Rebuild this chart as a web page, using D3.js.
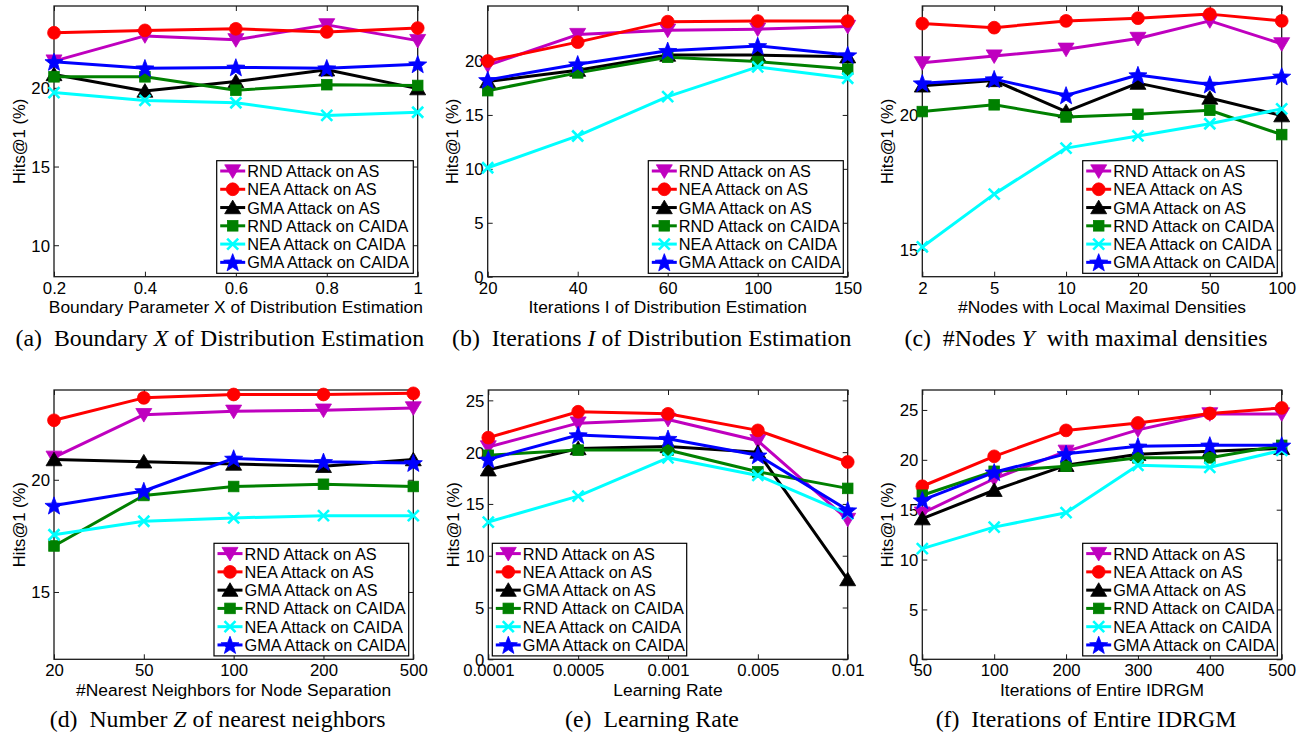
<!DOCTYPE html>
<html>
<head>
<meta charset="utf-8">
<script src="https://cdn.jsdelivr.net/npm/d3@7"></script>
<style>
  html, body { margin: 0; padding: 0; background: #fff; }
  svg { display: block; }
  text { font-family: "Liberation Sans", Arial, Helvetica, sans-serif; fill: #000; }
  .cap { font-family: "Liberation Serif", "Times New Roman", Times, serif; }
</style>
</head>
<body>
<svg id="chart" width="1302" height="736"></svg>
<script>
// ---------------- DATA ----------------
const seriesNames = ["RND Attack on AS", "NEA Attack on AS", "GMA Attack on AS",
                     "RND Attack on CAIDA", "NEA Attack on CAIDA", "GMA Attack on CAIDA"];

// (a) Boundary X
const catsA = ["0.2", "0.4", "0.6", "0.8", "1"];
const rndAsA = [21.7, 23.3, 23.05, 24.0, 23.0];
const neaAsA = [23.5, 23.65, 23.75, 23.55, 23.8];
const gmaAsA = [20.85, 19.8, 20.4, 21.15, 19.95];
const rndCaA = [20.7, 20.7, 19.85, 20.2, 20.15];
const neaCaA = [19.7, 19.2, 19.05, 18.25, 18.45];
const gmaCaA = [21.65, 21.25, 21.3, 21.25, 21.5];
const yTicksA = [10, 15, 20];

// (b) Iterations I
const catsB = ["20", "40", "60", "100", "150"];
const rndAsB = [19.6, 22.45, 22.85, 22.95, 23.2];
const neaAsB = [20.0, 21.75, 23.65, 23.7, 23.7];
const gmaAsB = [18.1, 19.15, 20.55, 20.55, 20.4];
const rndCaB = [17.25, 18.9, 20.35, 19.95, 19.25];
const neaCaB = [10.1, 13.05, 16.7, 19.45, 18.4];
const gmaCaB = [18.25, 19.7, 20.95, 21.4, 20.55];
const yTicksB = [0, 5, 10, 15, 20];

// (c) #Nodes Y
const catsC = ["2", "5", "10", "20", "50", "100"];
const rndAsC = [21.9, 22.15, 22.4, 22.8, 23.45, 22.6];
const neaAsC = [23.35, 23.2, 23.45, 23.55, 23.7, 23.45];
const gmaAsC = [21.05, 21.25, 20.1, 21.15, 20.6, 19.95];
const rndCaC = [20.1, 20.35, 19.9, 20.0, 20.15, 19.25];
const neaCaC = [15.1, 17.05, 18.75, 19.2, 19.65, 20.2];
const gmaCaC = [21.15, 21.3, 20.7, 21.45, 21.1, 21.4];
const yTicksC = [15, 20];

// (d) Number Z of nearest neighbors
const catsD = ["20", "50", "100", "200", "500"];
const rndAsD = [21.0, 22.9, 23.05, 23.1, 23.2];
const neaAsD = [22.65, 23.65, 23.8, 23.8, 23.85];
const gmaAsD = [20.9, 20.8, 20.7, 20.6, 20.9];
const rndCaD = [17.05, 19.3, 19.7, 19.8, 19.7];
const neaCaD = [17.55, 18.15, 18.3, 18.4, 18.4];
const gmaCaD = [18.85, 19.5, 20.95, 20.8, 20.75];
const yTicksD = [15, 20];

// (e) Learning rate
const catsE = ["0.0001", "0.0005", "0.001", "0.005", "0.01"];
const rndAsE = [20.5, 22.8, 23.15, 21.1, 13.5];
const neaAsE = [21.4, 23.9, 23.7, 22.1, 19.05];
const gmaAsE = [18.3, 20.35, 20.55, 20.0, 7.7];
const rndCaE = [19.7, 20.2, 20.2, 18.1, 16.5];
const neaCaE = [13.25, 15.75, 19.45, 17.75, 14.05];
const gmaCaE = [19.3, 21.65, 21.3, 19.7, 14.4];
const yTicksE = [0, 5, 10, 15, 20, 25];

// (f) Iterations of entire IDRGM
const catsF = ["50", "100", "200", "300", "400", "500"];
const rndAsF = [14.65, 18.1, 20.85, 23.0, 24.6, 24.6];
const neaAsF = [17.35, 20.35, 22.95, 23.7, 24.65, 25.2];
const gmaAsF = [14.1, 16.95, 19.45, 20.55, 20.85, 21.15];
const rndCaF = [16.45, 18.85, 19.35, 20.2, 20.2, 21.45];
const neaCaF = [11.1, 13.25, 14.7, 19.45, 19.25, 20.95];
const gmaCaF = [15.95, 18.75, 20.6, 21.35, 21.45, 21.45];
const yTicksF = [0, 5, 10, 15, 20, 25];

// ---------------- STYLE / LAYOUT ----------------
const colors = ["#bf00bf", "#ff0000", "#000000", "#008000", "#00ffff", "#0000ff"];
const markers = ["triDown", "circle", "triUp", "square", "x", "star"];

const panels = [
  { cats: catsA, series: [rndAsA, neaAsA, gmaAsA, rndCaA, neaCaA, gmaCaA], yDom: [8, 25.2], yTicks: yTicksA,
    box: [54, 417.7, 6, 276.7], leg: [216.7, 160.7], legW: 196.6,
    xlabel: "Boundary Parameter X of Distribution Estimation",
    cap: [["(a)  Boundary ", false], ["X", true], [" of Distribution Estimation", false]] },
  { cats: catsB, series: [rndAsB, neaAsB, gmaAsB, rndCaB, neaCaB, gmaCaB], yDom: [0, 25.1], yTicks: yTicksB,
    box: [487.7, 847.7, 6, 276.7], leg: [648.3, 160.7], legW: 195,
    xlabel: "Iterations I of Distribution Estimation",
    cap: [["(b)  Iterations ", false], ["I", true], [" of Distribution Estimation", false]] },
  { cats: catsC, series: [rndAsC, neaAsC, gmaAsC, rndCaC, neaCaC, gmaCaC], yDom: [14, 24], yTicks: yTicksC,
    box: [922.3, 1281.7, 6, 276.7], leg: [1082.7, 160.7], legW: 194.6,
    xlabel: "#Nodes with Local Maximal Densities",
    cap: [["(c)  #Nodes ", false], ["Y", true], ["  with maximal densities", false]] },
  { cats: catsD, series: [rndAsD, neaAsD, gmaAsD, rndCaD, neaCaD, gmaCaD], yDom: [12, 24], yTicks: yTicksD,
    box: [54, 413.3, 390, 659.3], leg: [214, 543.3], legW: 194.7,
    xlabel: "#Nearest Neighbors for Node Separation",
    cap: [["(d)  Number ", false], ["Z", true], [" of nearest neighbors", false]] },
  { cats: catsE, series: [rndAsE, neaAsE, gmaAsE, rndCaE, neaCaE, gmaCaE], yDom: [0, 26], yTicks: yTicksE,
    box: [488.3, 847.7, 390, 659.3], leg: [492.3, 543.3], legW: 194.4,
    xlabel: "Learning Rate",
    cap: [["(e)  Learning Rate", false]] },
  { cats: catsF, series: [rndAsF, neaAsF, gmaAsF, rndCaF, neaCaF, gmaCaF], yDom: [0, 27], yTicks: yTicksF,
    box: [922.3, 1281.7, 390, 659.3], leg: [1082.7, 543.3], legW: 194.6,
    xlabel: "Iterations of Entire IDRGM",
    cap: [["(f)  Iterations of Entire IDRGM", false]] }
];

const svg = d3.select("#chart");
svg.append("rect").attr("width", 1302).attr("height", 736).attr("fill", "#fff");

function starPath(R, r) {
  const pts = [];
  for (let i = 0; i < 10; i++) {
    const a = -Math.PI / 2 + i * Math.PI / 5;
    const rad = i % 2 === 0 ? R : r;
    pts.push([rad * Math.cos(a), rad * Math.sin(a) + 0.8]);
  }
  return "M" + pts.map(p => p[0].toFixed(2) + "," + p[1].toFixed(2)).join("L") + "Z";
}

function drawMarker(g, type, color, x, y) {
  const m = g.append("g").attr("transform", `translate(${x},${y})`);
  if (type === "circle") {
    m.append("circle").attr("r", 6.4).attr("fill", color).attr("stroke", color).attr("stroke-width", 0.8);
  } else if (type === "triDown") {
    m.append("path").attr("d", "M-8,-6.2L8,-6.2L0,7.4Z").attr("fill", color).attr("stroke", color).attr("stroke-width", 0.8);
  } else if (type === "triUp") {
    m.append("path").attr("d", "M-8,6.2L8,6.2L0,-7.4Z").attr("fill", color).attr("stroke", color).attr("stroke-width", 0.8);
  } else if (type === "square") {
    m.append("rect").attr("x", -5.3).attr("y", -5.3).attr("width", 10.6).attr("height", 10.6)
      .attr("fill", color).attr("stroke", color).attr("stroke-width", 0.8);
  } else if (type === "x") {
    m.append("path").attr("d", "M-5.5,-5.5L5.5,5.5M-5.5,5.5L5.5,-5.5").attr("stroke", color)
      .attr("stroke-width", 2.6).attr("fill", "none");
  } else if (type === "star") {
    m.append("path").attr("d", starPath(9.5, 4.0)).attr("fill", color).attr("stroke", color).attr("stroke-width", 0.8);
  }
}

panels.forEach(p => {
  const [x0, x1, y0, y1] = p.box;
  const g = svg.append("g");
  const x = d3.scalePoint().domain(p.cats).range([x0, x1]).padding(0);
  const y = d3.scaleLinear().domain(p.yDom).range([y1, y0]);

  // axes box
  g.append("rect").attr("x", x0).attr("y", y0).attr("width", x1 - x0).attr("height", y1 - y0)
    .attr("fill", "none").attr("stroke", "#1a1a1a").attr("stroke-width", 1.3);

  // bottom axis (ticks inward) + labels
  const bottom = g.append("g").attr("transform", `translate(0,${y1})`)
    .call(d3.axisBottom(x).tickSize(-5).tickPadding(0).tickSizeOuter(0));
  bottom.select(".domain").remove();
  bottom.selectAll(".tick line").attr("stroke", "#1a1a1a").attr("stroke-width", 1);
  bottom.selectAll(".tick text").attr("y", 17).attr("dy", null).attr("font-size", 16.8)
    .attr("font-family", '"Liberation Sans", Arial, sans-serif').attr("fill", "#000");

  // top ticks
  const top = g.append("g").attr("transform", `translate(0,${y0})`)
    .call(d3.axisTop(x).tickSize(-5).tickFormat("").tickSizeOuter(0));
  top.select(".domain").remove();
  top.selectAll(".tick line").attr("stroke", "#1a1a1a");

  // left axis
  const left = g.append("g").attr("transform", `translate(${x0},0)`)
    .call(d3.axisLeft(y).tickValues(p.yTicks).tickSize(-5).tickPadding(4).tickSizeOuter(0));
  left.select(".domain").remove();
  left.selectAll(".tick line").attr("stroke", "#1a1a1a");
  left.selectAll(".tick text").attr("font-size", 16.8).attr("x", -4).attr("dy", "0.35em")
    .attr("font-family", '"Liberation Sans", Arial, sans-serif').attr("fill", "#000");

  // right ticks
  const right = g.append("g").attr("transform", `translate(${x1},0)`)
    .call(d3.axisRight(y).tickValues(p.yTicks).tickSize(-5).tickFormat("").tickSizeOuter(0));
  right.select(".domain").remove();
  right.selectAll(".tick line").attr("stroke", "#1a1a1a");

  // axis labels
  g.append("text").attr("x", (x0 + x1) / 2).attr("y", y1 + 36.3).attr("text-anchor", "middle")
    .attr("font-size", 17.4).text(p.xlabel);
  g.append("text").attr("transform", `translate(${x0 - 35},${(y0 + y1) / 2}) rotate(-90)`)
    .attr("text-anchor", "middle").attr("dominant-baseline", "central").attr("font-size", 16.6).text("Hits@1 (%)");

  // caption
  const cap = g.append("text").attr("class", "cap").attr("x", (x0 + x1) / 2 - 16)
    .attr("y", y0 === 6 ? 345.5 : 727).attr("text-anchor", "middle").attr("font-size", 23.8)
    .attr("xml:space", "preserve").style("white-space", "pre");
  p.cap.forEach(([t, it]) => {
    cap.append("tspan").attr("font-style", it ? "italic" : "normal").text(t);
  });

  // series
  const line = d3.line().x((d, i) => x(p.cats[i])).y(d => y(d));
  p.series.forEach((vals, si) => {
    const sg = g.append("g");
    sg.append("path").datum(vals).attr("d", line).attr("fill", "none")
      .attr("stroke", colors[si]).attr("stroke-width", 3).attr("stroke-linejoin", "round");
    vals.forEach((v, i) => drawMarker(sg, markers[si], colors[si], x(p.cats[i]), y(v)));
  });

  // legend
  const [lx, ly] = p.leg;
  const rowH = 18.27;
  const lg = g.append("g");
  lg.append("rect").attr("x", lx).attr("y", ly).attr("width", p.legW).attr("height", 112.6)
    .attr("fill", "#fff").attr("stroke", "#000").attr("stroke-width", 1.2);
  seriesNames.forEach((name, si) => {
    const cy = ly + 10.3 + si * rowH;
    lg.append("line").attr("x1", lx + 3.5).attr("x2", lx + 28.5).attr("y1", cy).attr("y2", cy)
      .attr("stroke", colors[si]).attr("stroke-width", 3);
    drawMarker(lg, markers[si], colors[si], lx + 16, cy);
    lg.append("text").attr("x", lx + 30.5).attr("y", cy).attr("dominant-baseline", "central")
      .attr("font-size", 16.3).text(name);
  });
});
</script>
</body>
</html>
